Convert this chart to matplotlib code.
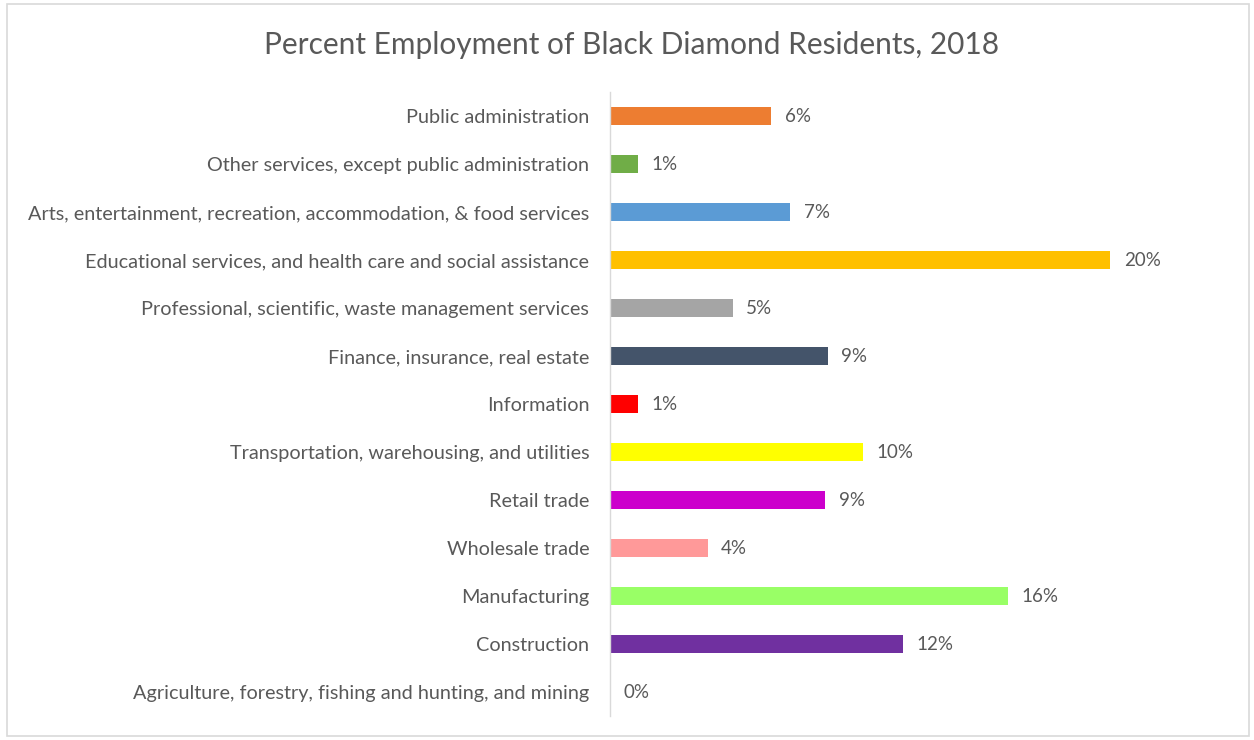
import matplotlib.pyplot as plt
from matplotlib.patches import Rectangle

plt.rcParams['font.family'] = ['Lato', 'DejaVu Sans']

# industries, bottom to top
industries = [
    'Agriculture, forestry, fishing and hunting, and mining',
    'Construction',
    'Manufacturing',
    'Wholesale trade',
    'Retail trade',
    'Transportation, warehousing, and utilities',
    'Information',
    'Finance, insurance, real estate',
    'Professional, scientific, waste management services',
    'Educational services, and health care and social assistance',
    'Arts, entertainment, recreation, accommodation, & food services',
    'Other services, except public administration',
    'Public administration',
]
percent = [0.0, 11.7, 15.9, 3.9, 8.6, 10.1, 1.1, 8.7, 4.9, 20.0, 7.2, 1.1, 6.45]
colors = ['#A5A5A5', '#7030A0', '#99FF66', '#FF9999', '#CC00CC', '#FFFF00',
          '#FF0000', '#44546A', '#A5A5A5', '#FFC000', '#5B9BD5', '#70AD47',
          '#ED7D31']

text_col = '#595959'

fig = plt.figure(figsize=(12.54, 7.40), dpi=100)
ax = fig.add_axes([610 / 1254, 24 / 740, 550 / 1254, 624 / 740])

y = range(len(industries))
ax.barh(y, percent, height=0.36, color=colors)
for yi, v in zip(y, percent):
    ax.text(v + 0.55, yi, '%.0f%%' % v, va='center', ha='left',
            fontsize=13.5, color=text_col)

ax.set_xlim(0, 22)
ax.set_ylim(-0.5, len(industries) - 0.5)
ax.set_yticks(list(y))
ax.set_yticklabels(industries, fontsize=14.3, color=text_col)
ax.tick_params(axis='y', length=0, pad=15)
ax.set_xticks([])
for s in ['top', 'right', 'bottom']:
    ax.spines[s].set_visible(False)
ax.spines['left'].set_color('#D9D9D9')
ax.spines['left'].set_linewidth(1.0)

fig.text(632 / 1254, 1 - 45 / 740, 'Percent Employment of Black Diamond Residents, 2018',
         ha='center', va='center', fontsize=21.5, color=text_col)

# light frame around the whole chart
fig.patches.append(Rectangle((7 / 1254, 4 / 740), 1242 / 1254, 732 / 740,
                             transform=fig.transFigure, fill=False,
                             edgecolor='#D9D9D9', linewidth=1.2))

fig.savefig('out.png', dpi=100)
